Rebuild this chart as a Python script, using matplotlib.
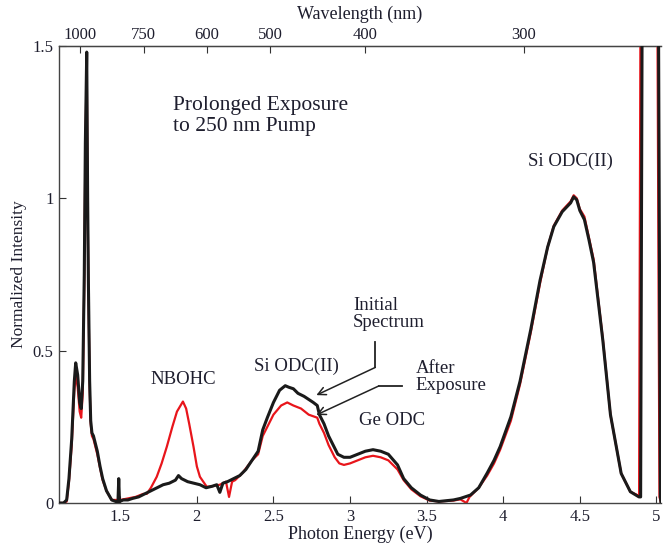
import matplotlib
matplotlib.use("Agg")
import matplotlib.pyplot as plt
import numpy as np

plt.rcParams['font.family'] = ['Liberation Serif', 'DejaVu Serif']

# Initial spectrum (black)
e_init = [1.10, 1.13, 1.15, 1.165, 1.183, 1.20, 1.209, 1.222, 1.235, 1.245, 1.255, 1.265, 1.272,
          1.281, 1.287, 1.292, 1.30, 1.307, 1.315, 1.325, 1.335, 1.35, 1.368, 1.385, 1.41, 1.444,
          1.47, 1.485, 1.49, 1.495, 1.52, 1.55, 1.58, 1.62, 1.66, 1.70, 1.74, 1.78, 1.82, 1.86,
          1.88, 1.90, 1.94, 1.98, 2.02, 2.06, 2.10, 2.13, 2.15, 2.17, 2.20, 2.24, 2.28, 2.32,
          2.36, 2.40, 2.43, 2.46, 2.50, 2.54, 2.577, 2.60, 2.63, 2.66, 2.70, 2.73, 2.76, 2.786,
          2.80, 2.83, 2.86, 2.89, 2.92, 2.96, 3.00, 3.05, 3.10, 3.15, 3.20, 3.25, 3.31, 3.35,
          3.40, 3.46, 3.52, 3.58, 3.675, 3.72, 3.786, 3.84, 3.895, 3.94, 3.98, 4.05, 4.11, 4.18,
          4.24, 4.29, 4.33, 4.385, 4.44, 4.46, 4.48, 4.50, 4.53, 4.56, 4.59, 4.65, 4.70, 4.77,
          4.83, 4.886, 4.897, 4.908, 5.012, 5.026, 5.03]
i_init = [0.0, 0.0, 0.01, 0.08, 0.21, 0.40, 0.46, 0.42, 0.33, 0.31, 0.40, 0.75, 1.18,
          1.48, 1.0, 0.72, 0.40, 0.27, 0.23, 0.22, 0.20, 0.17, 0.12, 0.08, 0.04, 0.01,
          0.005, 0.005, 0.08, 0.005, 0.01, 0.01, 0.015, 0.02, 0.03, 0.04, 0.05, 0.06, 0.065, 0.075,
          0.09, 0.08, 0.07, 0.065, 0.06, 0.05, 0.055, 0.06, 0.035, 0.065, 0.07, 0.08, 0.09, 0.11,
          0.14, 0.17, 0.24, 0.28, 0.33, 0.37, 0.385, 0.38, 0.375, 0.36, 0.35, 0.34, 0.33, 0.32,
          0.29, 0.26, 0.22, 0.19, 0.16, 0.15, 0.15, 0.16, 0.17, 0.175, 0.17, 0.16, 0.125, 0.08,
          0.05, 0.026, 0.01, 0.005, 0.01, 0.015, 0.026, 0.05, 0.098, 0.14, 0.185, 0.283, 0.40, 0.57,
          0.73, 0.84, 0.907, 0.956, 0.985, 1.005, 0.995, 0.96, 0.93, 0.863, 0.79, 0.535, 0.29, 0.097,
          0.037, 0.02, 0.02, 1.8, 1.8, 0.02, 0.0]

# After exposure (red)
e_after = [1.10, 1.13, 1.15, 1.165, 1.183, 1.20, 1.209, 1.222, 1.235, 1.245, 1.255, 1.265, 1.272,
           1.281, 1.287, 1.292, 1.30, 1.307, 1.315, 1.325, 1.335, 1.35, 1.368, 1.385, 1.41, 1.444,
           1.50, 1.55, 1.60, 1.65, 1.673, 1.70, 1.738, 1.77, 1.804, 1.84, 1.87, 1.909, 1.93, 1.95,
           1.978, 2.00, 2.02, 2.065, 2.10, 2.15, 2.19, 2.21, 2.23, 2.25, 2.30, 2.36, 2.40, 2.43,
           2.46, 2.50, 2.55, 2.59, 2.63, 2.68, 2.73, 2.786, 2.80, 2.83, 2.86, 2.90, 2.93, 2.96,
           3.00, 3.05, 3.10, 3.15, 3.20, 3.25, 3.31, 3.35, 3.40, 3.46, 3.52, 3.58, 3.675, 3.72,
           3.76, 3.78, 3.80, 3.84, 3.895, 3.94, 3.98, 4.05, 4.11, 4.18, 4.24, 4.29, 4.33, 4.385,
           4.44, 4.46, 4.48, 4.50, 4.53, 4.56, 4.59, 4.65, 4.70, 4.77, 4.83, 4.88, 4.887, 4.897,
           5.005, 5.02, 5.03]
i_after = [0.0, 0.0, 0.005, 0.07, 0.19, 0.37, 0.42, 0.38, 0.30, 0.28, 0.36, 0.72, 1.15,
           1.45, 0.98, 0.70, 0.38, 0.26, 0.22, 0.21, 0.19, 0.16, 0.115, 0.075, 0.04, 0.01,
           0.01, 0.015, 0.02, 0.03, 0.03, 0.05, 0.086, 0.13, 0.185, 0.25, 0.30, 0.333, 0.31, 0.26,
           0.185, 0.12, 0.086, 0.053, 0.055, 0.06, 0.07, 0.02, 0.07, 0.075, 0.10, 0.14, 0.16, 0.22,
           0.25, 0.29, 0.32, 0.33, 0.32, 0.31, 0.29, 0.28, 0.26, 0.23, 0.19, 0.15, 0.13, 0.125,
           0.13, 0.14, 0.15, 0.155, 0.15, 0.14, 0.11, 0.075, 0.045, 0.022, 0.008, 0.005, 0.008, 0.012,
           0.0, 0.02, 0.03, 0.05, 0.09, 0.13, 0.175, 0.27, 0.39, 0.56, 0.72, 0.84, 0.91, 0.96,
           0.99, 1.01, 1.0, 0.965, 0.94, 0.87, 0.80, 0.54, 0.29, 0.097, 0.037, 0.025, 0.025, 1.8,
           1.8, 0.02, 0.0]

x_ticks = [1.5, 2, 2.5, 3, 3.5, 4, 4.5, 5]
x_ticklabels = ["1.5", "2", "2.5", "3", "3.5", "4", "4.5", "5"]
y_ticks = [0, 0.5, 1, 1.5]
y_ticklabels = ["0", "0.5", "1", "1.5"]
wl_ticks = [1000, 750, 600, 500, 400, 300]

txt = '#1e1e2e'
fig = plt.figure(figsize=(6.65, 5.45), dpi=100)
ax = fig.add_axes([59/665, 42/545, 602/665, 457/545])

ax.plot(e_after, i_after, color='#e8151b', lw=1.6, zorder=2)
ax.plot(e_init, i_init, color='#1a1a1a', lw=2.2, zorder=3)

ax.set_xlim(1.1, 5.03)
ax.set_ylim(0, 1.5)
ax.set_xticks(x_ticks)
ax.set_xticklabels(x_ticklabels)
ax.set_yticks(y_ticks)
ax.set_yticklabels(y_ticklabels)
ax.tick_params(direction='in', length=5, labelsize=12, colors='#333', labelcolor=txt, pad=4)
ax.spines['right'].set_visible(False)
for s in ['left', 'bottom', 'top']:
    ax.spines[s].set_color('#444')
    ax.spines[s].set_linewidth(1.0)
ax.set_xlabel("Photon Energy (eV)", fontsize=13, color=txt, labelpad=1)
ax.set_ylabel("Normalized Intensity", fontsize=12.5, color=txt, labelpad=4)

conv = lambda v: 1239.84 / np.asarray(v, dtype=float)
sec = ax.secondary_xaxis('top', functions=(conv, conv))
sec.set_xticks(wl_ticks)
sec.set_xticklabels([str(w) for w in wl_ticks])
sec.tick_params(direction='in', length=5, labelsize=12, colors='#333', labelcolor=txt, pad=2)
sec.set_xlabel("Wavelength (nm)", fontsize=13, color=txt, labelpad=6)

ax.text(1.845, 1.27, "Prolonged Exposure\nto 250 nm Pump", fontsize=15.5, color=txt,
        va='center', ha='left', linespacing=1.1)
ax.text(4.165, 1.12, "Si ODC(II)", fontsize=13.5, color=txt, va='center', ha='left')
ax.text(1.695, 0.407, "NBOHC", fontsize=13.5, color=txt, va='center', ha='left')
ax.text(2.37, 0.447, "Si ODC(II)", fontsize=13.5, color=txt, va='center', ha='left')
ax.text(3.02, 0.62, "Initial\nSpectrum", fontsize=13.5, color=txt, va='center', ha='left',
        linespacing=1.05)
ax.text(3.427, 0.414, "After\nExposure", fontsize=13.5, color=txt, va='center', ha='left',
        linespacing=1.05)
ax.text(3.056, 0.272, "Ge ODC", fontsize=13.5, color=txt, va='center', ha='left')

# arrows
ax.plot([3.165, 3.165], [0.529, 0.445], color='#222', lw=1.3)
ax.annotate("", xy=(2.78, 0.354), xytext=(3.165, 0.445),
            arrowprops=dict(arrowstyle='->', color='#222', lw=1.1, shrinkA=0, shrinkB=0,
                            mutation_scale=14))
ax.plot([3.34, 3.187], [0.384, 0.384], color='#222', lw=1.3)
ax.annotate("", xy=(2.78, 0.289), xytext=(3.187, 0.384),
            arrowprops=dict(arrowstyle='->', color='#222', lw=1.1, shrinkA=0, shrinkB=0,
                            mutation_scale=14))

fig.savefig("out.png", dpi=100)
